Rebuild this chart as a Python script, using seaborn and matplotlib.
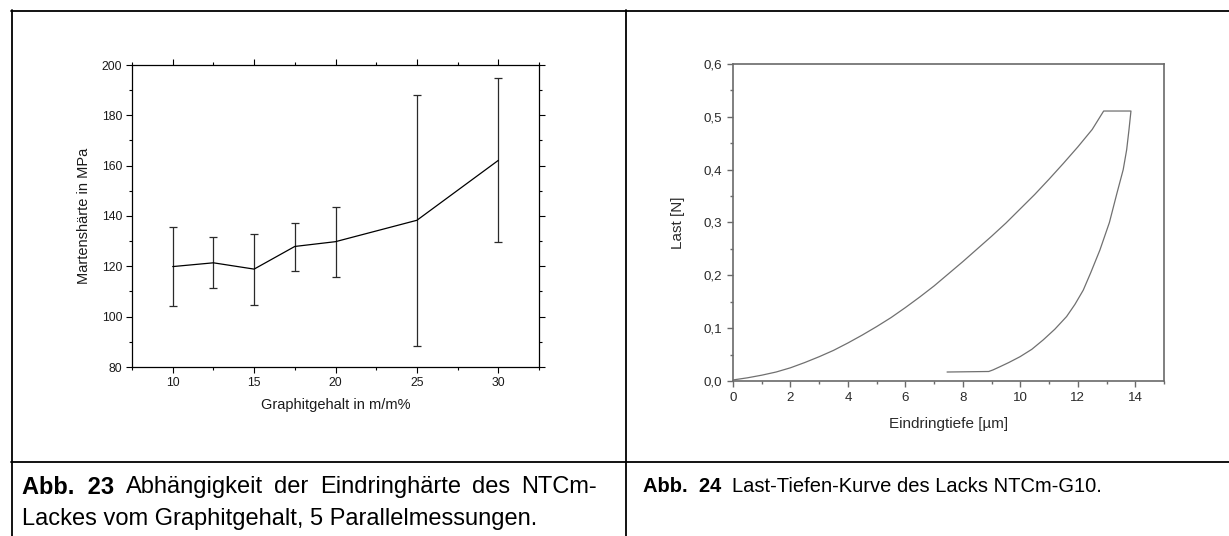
import numpy as np
import pandas as pd
import matplotlib
matplotlib.use("Agg")
import matplotlib.pyplot as plt
import seaborn as sns
from matplotlib.lines import Line2D
from matplotlib.ticker import MultipleLocator, FuncFormatter

# ---------------- data ----------------
# Abb. 23: Martenshärte vs. Graphitgehalt
graphite = [10, 12.5, 15, 17.5, 20, 25, 30]
hardness = [119.9, 121.4, 118.9, 127.9, 129.8, 138.3, 162.1]
hard_low = [104.2, 111.5, 104.6, 118.3, 115.9, 88.4, 129.6]
hard_high = [135.5, 131.5, 132.8, 137.2, 143.6, 188.0, 194.7]

# Abb. 24: Last-Tiefen-Kurve (loading, hold, unloading, tail)
depth = [0, 0.5, 1, 1.5, 2, 2.5, 3, 3.5, 4, 4.5, 5, 5.5, 6, 6.5, 7, 7.5, 8, 8.5,
         9, 9.5, 10, 10.5, 11, 11.5, 12, 12.5, 12.9,
         13.85, 13.78, 13.70, 13.58, 13.36, 13.10, 12.77, 12.45, 12.19, 11.90,
         11.61, 11.20, 10.80, 10.40, 9.99, 9.60, 9.29, 9.05, 8.9, 7.45]
load = [0.002, 0.006, 0.011, 0.017, 0.025, 0.035, 0.046, 0.058, 0.072, 0.087,
        0.103, 0.120, 0.139, 0.159, 0.180, 0.203, 0.226, 0.250, 0.274, 0.299,
        0.326, 0.353, 0.382, 0.412, 0.443, 0.476, 0.511,
        0.511, 0.475, 0.4375, 0.400, 0.355, 0.300, 0.248, 0.205, 0.172, 0.145,
        0.122, 0.098, 0.078, 0.060, 0.046, 0.035, 0.027, 0.021, 0.018, 0.017]

cap23_bold = "Abb.  23"
cap23_lines = ["Abhängigkeit der Eindringhärte des NTCm-",
               "Lackes vom Graphitgehalt, 5 Parallelmessungen."]
cap24_bold = "Abb.  24"
cap24_text = "Last-Tiefen-Kurve des Lacks NTCm-G10."

# ---------------- style ----------------
sns.set_theme(style="ticks")
plt.rcParams['font.family'] = ['Liberation Sans', 'DejaVu Sans']

W, H = 1229, 536
fig = plt.figure(figsize=(W / 100, H / 100), dpi=100)
fig.patch.set_facecolor("white")

def fx(px):
    return px / W

def fy(py):
    return 1 - py / H

# ---------------- left chart ----------------
ax1 = fig.add_axes([fx(132), fy(367), fx(539) - fx(132), fy(65) - fy(367)])
df1 = pd.DataFrame({"x": graphite, "y": hardness})
yerr = [np.array(hardness) - np.array(hard_low), np.array(hard_high) - np.array(hardness)]
ax1.errorbar(graphite, hardness, yerr=yerr, fmt='none', ecolor='#2a2a2a',
             elinewidth=0.9, capsize=2.6, capthick=0.9, zorder=2)
sns.lineplot(data=df1, x="x", y="y", ax=ax1, color='black', lw=0.9, sort=False,
             estimator=None, zorder=3)
ax1.set_xlim(7.5, 32.5)
ax1.set_ylim(80, 200)
ax1.xaxis.set_major_locator(MultipleLocator(5))
ax1.xaxis.set_minor_locator(MultipleLocator(2.5))
ax1.yaxis.set_major_locator(MultipleLocator(20))
ax1.yaxis.set_minor_locator(MultipleLocator(10))
for s in ax1.spines.values():
    s.set_visible(True)
    s.set_color('black')
    s.set_linewidth(0.9)
ax1.tick_params(which='both', direction='out', color='black', width=0.8,
                labelsize=8.8, labelcolor='#1a1a1a', pad=3)
ax1.tick_params(which='major', length=4)
ax1.tick_params(which='minor', length=2.5)
ax1.tick_params(which='both', top=True, right=True)
ax1.set_xlabel("Graphitgehalt in m/m%", fontsize=10.5, color='#1a1a1a', labelpad=7)
ax1.set_ylabel("Martenshärte in MPa", fontsize=10.5, color='#1a1a1a', labelpad=8)
ax1.grid(False)

# ---------------- right chart ----------------
ax2 = fig.add_axes([fx(733), fy(381), fx(1164) - fx(733), fy(64) - fy(381)])
df2 = pd.DataFrame({"x": depth, "y": load})
sns.lineplot(data=df2, x="x", y="y", ax=ax2, color='#707070', lw=0.9, sort=False,
             estimator=None)
ax2.set_xlim(0, 15)
ax2.set_ylim(0, 0.6)
ax2.xaxis.set_major_locator(MultipleLocator(2))
ax2.xaxis.set_minor_locator(MultipleLocator(1))
ax2.yaxis.set_major_locator(MultipleLocator(0.1))
ax2.yaxis.set_minor_locator(MultipleLocator(0.05))
ax2.yaxis.set_major_formatter(FuncFormatter(lambda v, p: f"{v:.1f}".replace('.', ',')))
ax2.xaxis.set_major_formatter(FuncFormatter(lambda v, p: f"{v:.0f}"))
for s in ax2.spines.values():
    s.set_visible(True)
    s.set_color('#6a6a6a')
    s.set_linewidth(1.2)
ax2.tick_params(which='both', direction='out', color='#6a6a6a', width=1.0,
                labelsize=9.6, labelcolor='#2a2a2a', pad=4)
ax2.tick_params(which='major', length=4)
ax2.tick_params(which='minor', length=2.5)
ax2.set_xlabel("Eindringtiefe [µm]", fontsize=11, color='#2a2a2a', labelpad=9)
ax2.set_ylabel("Last [N]", fontsize=11, color='#2a2a2a', labelpad=13)
ax2.grid(False)

# ---------------- table borders ----------------
lw_tab = 1.3
fig.add_artist(Line2D([fx(11), 1], [fy(10.5), fy(10.5)], transform=fig.transFigure,
                      color='black', lw=lw_tab))
fig.add_artist(Line2D([fx(11.5), fx(11.5)], [fy(10), 0], transform=fig.transFigure,
                      color='black', lw=lw_tab))
fig.add_artist(Line2D([fx(625.5), fx(625.5)], [fy(10), 0], transform=fig.transFigure,
                      color='black', lw=lw_tab))
fig.add_artist(Line2D([fx(11), 1], [fy(462), fy(462)], transform=fig.transFigure,
                      color='black', lw=lw_tab))

# ---------------- captions ----------------
renderer = fig.canvas.get_renderer()

def justified_line(words, x_start, x_end, y, fs):
    """Place words so the line spans x_start..x_end (justified text)."""
    arts = [fig.text(0, fy(y), w, fontsize=fs, va='center', ha='left', color='black')
            for w in words]
    widths = [a.get_window_extent(renderer).width for a in arts]
    gap = (x_end - x_start - sum(widths)) / (len(words) - 1)
    x = x_start
    for a, w in zip(arts, widths):
        a.set_x(fx(x))
        x += w + gap

fs_left = 17
t1 = fig.text(fx(22), fy(487), cap23_bold, fontsize=fs_left, fontweight='bold',
              va='center', ha='left', color='black')
bb = t1.get_window_extent(renderer)
justified_line(cap23_lines[0].split(" "), bb.x1 + 12, 597, 487, fs_left)
fig.text(fx(22), fy(519), cap23_lines[1], fontsize=fs_left, va='center', ha='left',
         color='black')

fs_right = 14.5
t2 = fig.text(fx(643), fy(487), cap24_bold, fontsize=fs_right, fontweight='bold',
              va='center', ha='left', color='black')
bb2 = t2.get_window_extent(renderer)
fig.text(fx(bb2.x1 + 11), fy(487), cap24_text, fontsize=fs_right, va='center',
         ha='left', color='black')

fig.savefig("out.png", dpi=100, facecolor='white')
